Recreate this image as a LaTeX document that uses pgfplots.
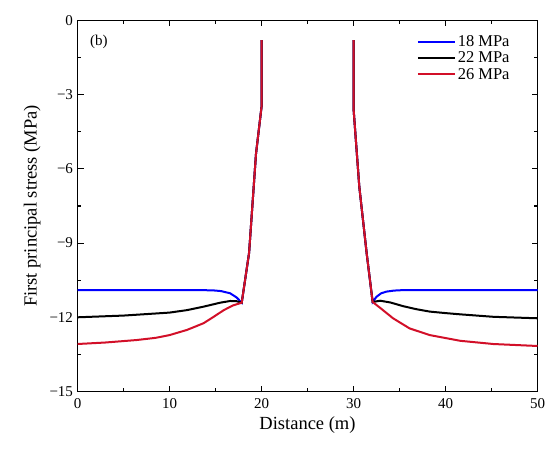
\documentclass[border=0pt]{standalone}
\usepackage{fontspec}
\setmainfont{Liberation Serif}
\usepackage{pgfplots}
\pgfplotsset{compat=1.18}
\definecolor{myblue}{RGB}{0,0,255}
\definecolor{myred}{RGB}{210,15,40}
\begin{document}
\begin{tikzpicture}
\begin{axis}[
  scale only axis, width=460pt, height=371pt,
  xmin=0, xmax=50, ymin=-15, ymax=0,
  xtick={0,10,20,30,40,50},
  ytick={-15,-12,-9,-6,-3,0},
  yticklabels={−15,−12,−9,−6,−3,0},
  minor x tick num=1, minor y tick num=1,
  tick align=inside,
  major tick length=6pt, minor tick length=3.5pt,
  tick style={black, line width=1.1pt},
  axis line style={line width=1.3pt},
  /pgf/number format/assume math mode=true,
  ticklabel style={font=\fontsize{15}{18}\selectfont},
  xticklabel style={yshift=-3pt},
  yticklabel style={xshift=-1pt},
  xlabel={Distance (m)}, ylabel={First principal stress (MPa)},
  label style={font=\fontsize{18.5}{22}\selectfont},
  xlabel style={yshift=-2pt},
  ylabel style={yshift=2pt},
  unbounded coords=jump,
  legend style={at={(0.944,0.966)}, anchor=north east, draw=none, fill=none,
    font=\fontsize{16.5}{19.7}\selectfont, inner sep=0pt, row sep=0pt},
  legend cell align=left,
  legend image code/.code={\draw[#1] (0pt,0pt) -- (37pt,0pt);},
]
\addplot[color=myblue, line width=2pt] coordinates {
(0,-10.90)(5,-10.90)(10,-10.90)(13,-10.90)(14.7,-10.91)(15.6,-10.94)(16.6,-11.03)(17.3,-11.20)(17.85,-11.41)(18.65,-9.4)(19.4,-5.4)(20,-3.5)(20,-0.79)(25,nan)(30,-0.79)(30,-3.54)(30.63,-6.72)(31.43,-9.41)(32.08,-11.38)(32.5,-11.17)(33.0,-11.03)(33.6,-10.96)(34.4,-10.92)(35.4,-10.90)(40,-10.90)(45,-10.90)(50,-10.90)
};
\addlegendentry{18 MPa}
\addplot[color=black, line width=2pt] coordinates {
(0,-12.00)(5,-11.93)(10,-11.81)(11.9,-11.71)(13.7,-11.57)(15.5,-11.41)(16.6,-11.34)(17.3,-11.35)(17.85,-11.41)(18.65,-9.4)(19.4,-5.4)(20,-3.5)(20,-0.79)(25,nan)(30,-0.79)(30,-3.54)(30.63,-6.72)(31.43,-9.41)(32.08,-11.38)(32.9,-11.33)(34,-11.40)(35.4,-11.55)(36.8,-11.67)(38.3,-11.77)(40,-11.83)(41.6,-11.88)(45.2,-11.98)(50,-12.04)
};
\addlegendentry{22 MPa}
\addplot[color=myred, line width=2pt] coordinates {
(0,-13.08)(3,-13.02)(6.4,-12.92)(8.5,-12.83)(10,-12.72)(11.9,-12.51)(13.7,-12.24)(14.8,-11.98)(15.9,-11.71)(16.9,-11.52)(17.85,-11.41)(18.65,-9.4)(19.4,-5.4)(20,-3.5)(20,-0.79)(25,nan)(30,-0.79)(30,-3.54)(30.63,-6.72)(31.43,-9.41)(32.08,-11.38)(32.9,-11.62)(34.3,-12.04)(36.1,-12.45)(38.3,-12.72)(41.6,-12.95)(45.2,-13.08)(50,-13.16)
};
\addlegendentry{26 MPa}
\node[anchor=west, font=\fontsize{15}{18}\selectfont, inner sep=0pt] at (rel axis cs:0.027,0.943) {(b)};
\end{axis}
\pgfresetboundingbox
\path (current axis.south west) ++(-77.5pt,-60.5pt) rectangle ([shift={(12.5pt,20.5pt)}]current axis.north east);
\end{tikzpicture}
\end{document}
